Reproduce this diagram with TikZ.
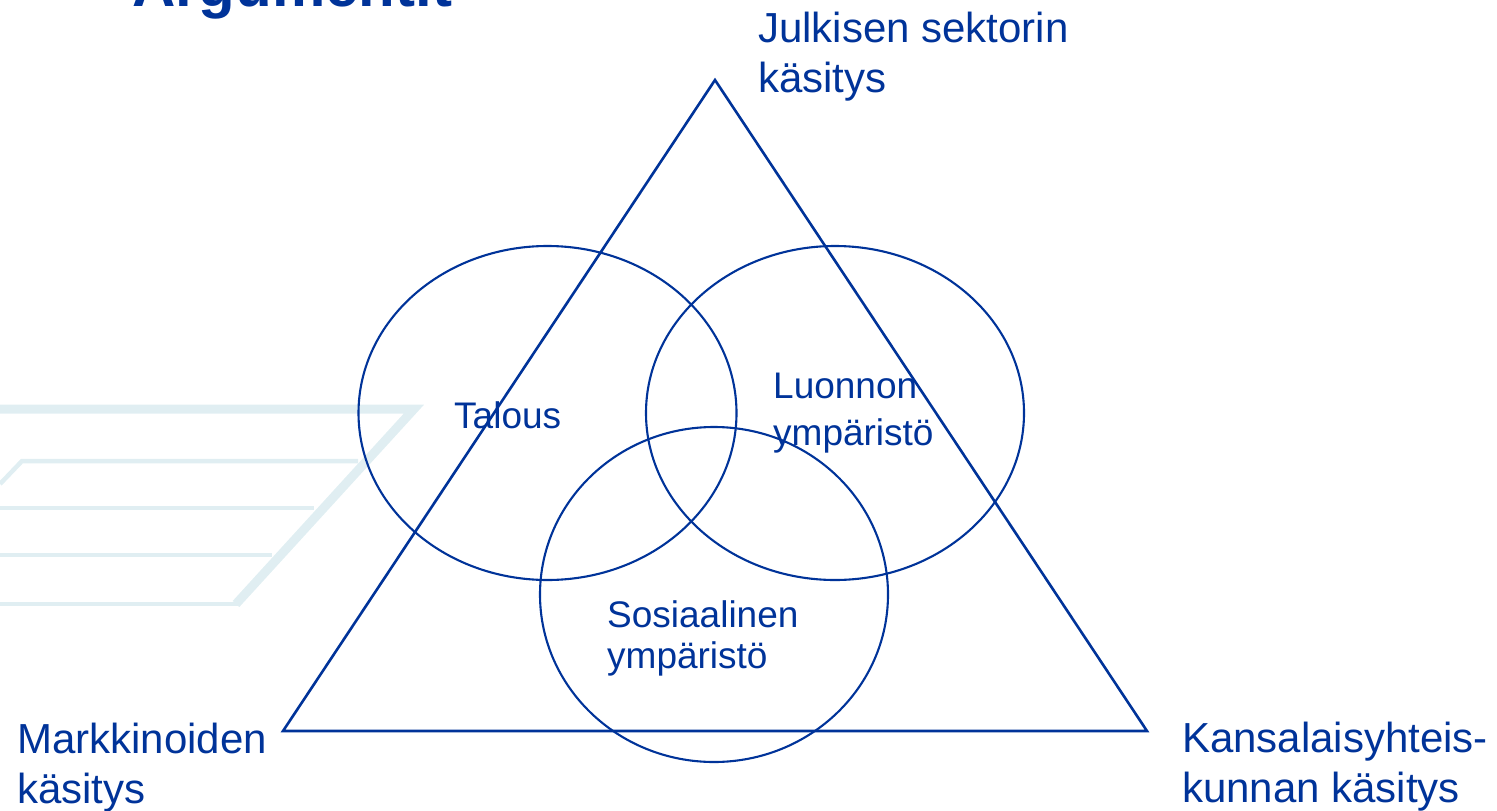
\documentclass[tikz,border=0pt]{standalone}
\usepackage{fontspec}
\setmainfont{Liberation Sans}
\usetikzlibrary{shapes.geometric}
\definecolor{dblue}{RGB}{0,51,153}
\definecolor{faint}{RGB}{224,238,242}
\tikzset{
  outline/.style={draw=dblue, line width=2.6pt, line join=miter},
  ring/.style={ellipse, draw=dblue, line width=2.1pt, inner sep=0pt},
  biglabel/.style={anchor=base west, inner sep=0pt, text=dblue, font=\fontsize{42}{50}\selectfont},
  smalllabel/.style={anchor=base west, inner sep=0pt, text=dblue, font=\fontsize{37}{44}\selectfont},
  bgthick/.style={draw=faint, line width=9pt},
  bgthin/.style={draw=faint, line width=4.5pt},
}
\begin{document}
\begin{tikzpicture}[x=1pt,y=-1pt]
\useasboundingbox (0,0) rectangle (1497,811);
% faint background logo
\coordinate (b1) at (0,409);
\coordinate (b2) at (414,409);
\coordinate (b3) at (236,604);
\draw[bgthick] (b1) -- (b2) -- (b3);
\coordinate (l2a) at (0,484);
\coordinate (l2b) at (22,461);
\coordinate (l2c) at (358,461);
\draw[bgthin] (l2a) -- (l2b) -- (l2c);
\coordinate (l3a) at (0,508);
\coordinate (l3c) at (314,508);
\draw[bgthin] (l3a) -- (l3c);
\coordinate (l4a) at (0,555);
\coordinate (l4c) at (272,555);
\draw[bgthin] (l4a) -- (l4c);
\coordinate (l5a) at (0,604);
\coordinate (l5c) at (238,604);
\draw[bgthin] (l5a) -- (l5c);
% title (cut off)
\node[anchor=base west, inner sep=0pt, text=dblue, font=\fontsize{60}{72}\selectfont\bfseries] (title) at (132,6) {Argumentit};
% triangle
\coordinate (apex) at (715,80);
\coordinate (bl) at (283,731);
\coordinate (br) at (1147,731);
\draw[outline] (apex) -- (bl) -- (br) -- cycle;
% circles
\node[ring, minimum width=378pt, minimum height=334pt] (talous) at (547.5,413) {};
\node[ring, minimum width=378pt, minimum height=334pt] (luonto) at (835,413) {};
\node[ring, minimum width=348pt, minimum height=335pt] (sos) at (714,594.5) {};
% inner labels
\node[smalllabel] (t1) at (454,428) {Talous};
\node[smalllabel] (lu1) at (773,398) {Luonnon};
\node[smalllabel] (lu2) at (773,445) {ympäristö};
\node[smalllabel] (s1) at (607,627) {Sosiaalinen};
\node[smalllabel] (s2) at (607,668) {ympäristö};
% outer labels
\node[biglabel] (j1) at (758,42) {Julkisen sektorin};
\node[biglabel] (j2) at (758,92) {käsitys};
\node[biglabel] (m1) at (17,753) {Markkinoiden};
\node[biglabel] (m2) at (17,803) {käsitys};
\node[biglabel] (k1) at (1182,752) {Kansalaisyhteis-};
\node[biglabel] (k2) at (1182,802) {kunnan käsitys};
\end{tikzpicture}
\end{document}
